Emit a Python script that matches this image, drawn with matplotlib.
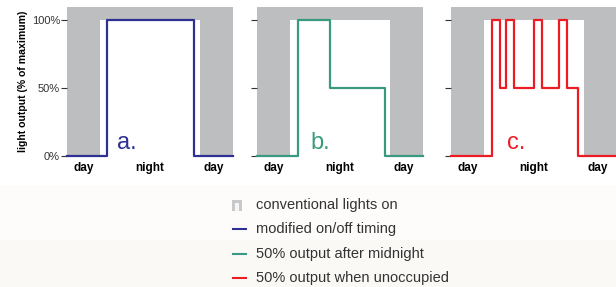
import numpy as np
import matplotlib
matplotlib.use("Agg")
import matplotlib.pyplot as plt
from matplotlib.patches import Rectangle
from matplotlib.lines import Line2D

# time axis runs 0..10 (day -> night -> day), light output in % of maximum
t_a = [0, 2.4, 7.65, 10]
lvl_a = [0, 100, 0, 0]
t_b = [0, 2.45, 4.4, 7.7, 10]
lvl_b = [0, 100, 50, 0, 0]
t_c = [0, 2.45, 2.95, 3.3, 3.8, 5.0, 5.5, 6.5, 7.0, 7.67, 10]
lvl_c = [0, 100, 50, 100, 50, 100, 50, 100, 50, 0, 0]
conv_on = [2, 8]  # conventional lights on (white window)

panel_labels = ["a.", "b.", "c."]
colors = ["#2e3192", "#3a9a80", "#ed1c24"]
legend_text = ["conventional lights on", "modified on/off timing",
               "50% output after midnight", "50% output when unoccupied"]
yticks = [0, 50, 100]
ytick_labels = ["0%", "50%", "100%"]
xtick_pos = [1.0, 5.0, 8.85]
xtick_labels = ["day", "night", "day"]

gray = "#bcbec0"
font = ["Liberation Sans", "DejaVu Sans"]

W, H = 616, 287
fig = plt.figure(figsize=(W / 100, H / 100), dpi=100)
fig.patch.set_facecolor("white")
# faint cream bands behind legend
fig.patches.append(Rectangle((0, 1 - 240 / H), 1, 55 / H, transform=fig.transFigure,
                             facecolor="#fdfcfa", edgecolor="none", zorder=-10))
fig.patches.append(Rectangle((0, 0), 1, 1 - 240 / H, transform=fig.transFigure,
                             facecolor="#faf9f6", edgecolor="none", zorder=-10))

lefts = [67, 257, 451]
series = [(t_a, lvl_a), (t_b, lvl_b), (t_c, lvl_c)]
lx = [3.0, 3.2, 3.4]

for i in range(3):
    ax = fig.add_axes([lefts[i] / W, 1 - 156 / H, 166 / W, 149 / H])
    ax.set_facecolor(gray)
    ax.add_patch(Rectangle((conv_on[0], 0), conv_on[1] - conv_on[0], 100,
                           facecolor="white", edgecolor="none", zorder=1))
    t, lv = series[i]
    ax.step(t, lv, where="post", color=colors[i], lw=1.6, zorder=3, clip_on=False)
    ax.text(lx[i], 5, panel_labels[i], color=colors[i], fontsize=17,
            family=font, zorder=4)
    ax.set_xlim(0, 10)
    ax.set_ylim(0, 109.6)
    for s in ax.spines.values():
        s.set_visible(False)
    ax.set_yticks(yticks)
    if i == 0:
        ax.set_yticklabels(ytick_labels, fontsize=8, color="#333333", family=font)
        ax.set_ylabel("light output (% of maximum)", fontsize=7.6, fontweight="bold",
                      family=font, labelpad=3)
    else:
        ax.set_yticklabels([])
    ax.tick_params(axis="y", length=4, width=0.8, color="#333333", pad=1)
    ax.set_xticks(xtick_pos)
    ax.set_xticklabels(xtick_labels, fontsize=8.5, fontweight="bold", family=font)
    ax.tick_params(axis="x", length=0, pad=4)

# legend drawn by hand
rows = [205, 229, 254, 278]
for k, (y, txt) in enumerate(zip(rows, legend_text)):
    yf = 1 - y / H
    if k == 0:
        fig.patches.append(Rectangle((232 / W, 1 - 211 / H), 10 / W, 11 / H,
                                     transform=fig.transFigure, facecolor="#c8c9cb",
                                     edgecolor="none"))
        fig.patches.append(Rectangle((235 / W, 1 - 211 / H), 4 / W, 8 / H,
                                     transform=fig.transFigure, facecolor="#f6f6f6",
                                     edgecolor="none"))
    else:
        fig.lines.append(Line2D([233 / W, 246 / W], [yf, yf], transform=fig.transFigure,
                                color=colors[k - 1], lw=1.5))
    fig.text(256 / W, yf, txt, fontsize=10.5, color="#333333", va="center",
             family=font)

fig.savefig("out.png", dpi=100)
